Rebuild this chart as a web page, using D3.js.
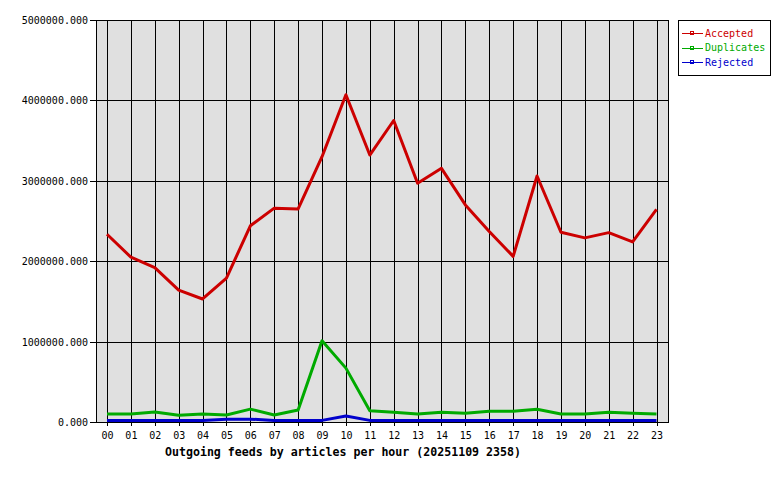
<!DOCTYPE html>
<html>
<head>
<meta charset="utf-8">
<script src="https://cdn.jsdelivr.net/npm/d3@7"></script>
<style>
  body { margin: 0; background: #fff; }
  svg { display: block; }
  text { font-family: "DejaVu Sans Mono", monospace; }
</style>
</head>
<body>
<script>
// hours 00..23
var hours = ["00","01","02","03","04","05","06","07","08","09","10","11",
             "12","13","14","15","16","17","18","19","20","21","22","23"];

var accepted = [2335000, 2050000, 1920000, 1640000, 1530000, 1790000, 2440000, 2660000,
                2650000, 3300000, 4070000, 3320000, 3750000, 2970000, 3155000, 2700000,
                2370000, 2060000, 3060000, 2360000, 2290000, 2355000, 2240000, 2645000];
var duplicates = [100000, 100000, 124000, 83000, 100000, 87000, 160000, 87000,
                  150000, 1010000, 670000, 140000, 120000, 100000, 120000, 108000,
                  133000, 133000, 158000, 100000, 100000, 120000, 108000, 100000];
var rejected = [20000, 20000, 20000, 20000, 20000, 35000, 35000, 20000,
                20000, 20000, 75000, 20000, 20000, 20000, 20000, 20000,
                20000, 20000, 20000, 20000, 20000, 20000, 20000, 20000];

var yTicks = [0, 1000000, 2000000, 3000000, 4000000, 5000000];
var seriesNames = ["Accepted", "Duplicates", "Rejected"];
var seriesColors = ["#cc0000", "#00aa00", "#0000cc"];

var width = 780, height = 480;
var pLeft = 96, pRight = 668, pTop = 20, pBottom = 422;

var svg = d3.select("body").append("svg")
    .attr("width", width)
    .attr("height", height);

var x = d3.scalePoint()
    .domain(hours)
    .range([107, 656.5]);

var y = d3.scaleLinear()
    .domain([0, 5000000])
    .range([pBottom, pTop]);

// plot background
svg.append("rect")
    .attr("x", pLeft + 0.5).attr("y", pTop + 0.5)
    .attr("width", pRight - pLeft).attr("height", pBottom - pTop)
    .attr("fill", "#e0e0e0")
    .attr("stroke", "#000")
    .attr("stroke-width", 1);

// grid
var grid = svg.append("g").attr("shape-rendering", "crispEdges");
grid.selectAll(".vg").data(hours).enter().append("line")
    .attr("x1", function(d){ return Math.round(x(d)) + 0.5; })
    .attr("x2", function(d){ return Math.round(x(d)) + 0.5; })
    .attr("y1", pTop).attr("y2", pBottom + 4)
    .attr("stroke", "#000");
grid.selectAll(".hg").data(yTicks).enter().append("line")
    .attr("x1", pLeft - 6).attr("x2", pRight)
    .attr("y1", function(d){ return Math.round(y(d)) + 0.5; })
    .attr("y2", function(d){ return Math.round(y(d)) + 0.5; })
    .attr("stroke", "#000");

// y labels
svg.selectAll(".yl").data(yTicks).enter().append("text")
    .attr("x", pLeft - 8)
    .attr("y", function(d){ return y(d) + 4; })
    .attr("text-anchor", "end")
    .attr("font-size", 10)
    .text(function(d){ return d3.format(".3f")(d); });

// x labels
svg.selectAll(".xl").data(hours).enter().append("text")
    .attr("x", function(d){ return x(d) + 0.5; })
    .attr("y", 439)
    .attr("text-anchor", "middle")
    .attr("font-size", 10)
    .text(function(d){ return d; });

// title
svg.append("text")
    .attr("x", 343)
    .attr("y", 456)
    .attr("text-anchor", "middle")
    .attr("font-size", 11.6)
    .attr("font-weight", "bold")
    .text("Outgoing feeds by articles per hour (20251109 2358)");

// lines
var line = d3.line()
    .x(function(d, i){ return x(hours[i]); })
    .y(function(d){ return y(d); });

[rejected, duplicates, accepted].forEach(function(s, k){
    var c = seriesColors[2 - k];
    svg.append("path")
        .attr("d", line(s))
        .attr("fill", "none")
        .attr("stroke", c)
        .attr("stroke-width", 3)
        .attr("stroke-linejoin", "round");
});

// legend
var lg = svg.append("g");
lg.append("rect")
    .attr("x", 678.5).attr("y", 20.5)
    .attr("width", 92).attr("height", 55)
    .attr("fill", "#fff").attr("stroke", "#000");
seriesNames.forEach(function(n, i){
    var ly = 33 + i * 14.7;
    lg.append("line")
        .attr("x1", 682).attr("x2", 703)
        .attr("y1", Math.round(ly) + 0.5).attr("y2", Math.round(ly) + 0.5)
        .attr("stroke", seriesColors[i]);
    lg.append("rect")
        .attr("x", 690.5).attr("y", Math.round(ly) - 1.5)
        .attr("width", 3).attr("height", 3)
        .attr("fill", "none").attr("stroke", seriesColors[i]);
    lg.append("text")
        .attr("x", 705)
        .attr("y", ly + 3.5)
        .attr("font-size", 10)
        .attr("fill", seriesColors[i])
        .text(n);
});
</script>
</body>
</html>
